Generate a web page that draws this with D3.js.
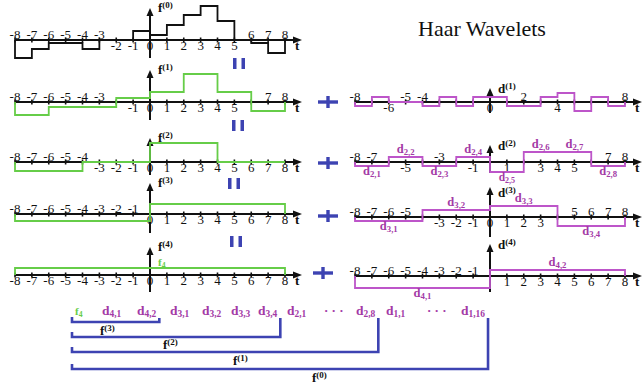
<!DOCTYPE html>
<html>
<head>
<meta charset="utf-8">
<script src="https://cdn.jsdelivr.net/npm/d3@7"></script>
<style>
  body { margin: 0; background: #fff; }
  svg { display: block; }
</style>
</head>
<body>
<svg id="chart" width="642" height="387"></svg>
<script>
// step heights, one value per interval on [-8, 8]
const f0 = [-18, -9, -3, -3, -9, 0, 0, 9, 5, 15, 25, 34, 19, 0, -3, -13];
const f1 = [-13, -5, -5, 4, 10, 28, 10, -9];
const f2 = [-9, 0, 19, 0];
const f3 = [-7, 10];
const f4 = [7];
const det1 = [-4, 5, 0, 0, -4, 5, -4, 5, 5, -4, -4, 5, 9, -9, 5, -4];
const det2 = [-4, 5, -4, 5, -10, 10, 10, -4];
const det3 = [-4, 7, 11, -9];
const det4 = [-12, 6];

// tick labels shown above / below each axis
const fTicksAbove = [
  [-8, -7, -6, -5, -4, -3, 6, 7, 8],
  [-8, -7, -6, -5, -4, -3, 7, 8],
  [-8, -7, -6, -5, -4],
  [-8, -7, -6, -5, -4, -3, -2, -1],
  []
];
const fTicksBelow = [
  [-2, -1, 0, 1, 2, 3, 4, 5],
  [-1, 0, 1, 2, 3, 4, 5],
  [-3, -2, -1, 0, 1, 2, 3, 4, 5, 6, 7, 8],
  [0, 1, 2, 3, 4, 5, 6, 7, 8],
  [-8, -7, -6, -5, -4, -3, -2, -1, 0, 1, 2, 3, 4, 5, 6, 7, 8]
];
const dTicksAbove = [
  [-8, -5, -4, 2, 8],
  [-8, -7, -3, 7, 8],
  [-8, -7, -6, -5, 5, 6, 7, 8],
  [-8, -7, -6, -5, -4, -3, -2, -1]
];
const dTicksBelow = [
  [-6, 0, 4],
  [-5, -1, 1, 3, 4, 5],
  [-3, -2, -1, 0, 1, 2, 3],
  [1, 2, 3, 4, 5, 6, 7, 8]
];

// coefficient names written on the detail plots
const d2Names = ["2,1", "2,2", "2,3", "2,4", "2,5", "2,6", "2,7", "2,8"];
const d3Names = ["3,1", "3,2", "3,3", "3,4"];
const d4Names = ["4,1", "4,2"];

// coefficient sequence at the bottom and the brackets under it
const seqLabels = ["f|4", "d|4,1", "d|4,2", "d|3,1", "d|3,2", "d|3,3", "d|3,4", "d|2,1", "· · ·", "d|2,8", "d|1,1", "· · ·", "d|1,16"];
const bracketLevels = ["3", "2", "1", "0"];
const bracketEnds = [2, 6, 9, 12];

const green = "#66cd48", purple = "#bd55c9", purpleText = "#a33aa6", blue = "#3d43b2";
const serif = '"Liberation Serif"';

const svg = d3.select("#chart");

const xLeft = d3.scaleLinear().domain([-8, 8]).range([15, 285]);
const xRight = d3.scaleLinear().domain([-8, 8]).range([355, 625]);

const leftAxisY = [40, 102, 162, 214, 275];
const leftTop = [32, 32, 24, 31, 28];
const leftBottom = [18, 18, 13, 19, 17];
const rightAxisY = [102, 162, 217, 276];
const rightTop = [14, 17, 30, 32];
const rightBottom = [11, 11, 20, 16];
const rightLabelDy = [5, 5, 10, 5];

function stepPoints(values) {
  const w = 16 / values.length;
  const pts = [[-8, 0]];
  values.forEach((v, i) => pts.push([-8 + i * w, v], [-8 + (i + 1) * w, v]));
  pts.push([8, 0]);
  return pts;
}

function txt(x, y) {
  return svg.append("text").attr("x", x).attr("y", y).style("font-family", serif);
}

function supLabel(x, y, base, sup, color) {
  const t = txt(x, y).attr("fill", color).attr("font-weight", "bold");
  t.append("tspan").attr("font-size", 13).text(base);
  t.append("tspan").attr("font-size", 9).attr("dy", -4).text("(" + sup + ")");
  return t;
}

function subLabel(x, y, base, sub, color, anchor, size) {
  const s = size || 13;
  const t = txt(x, y).attr("fill", color).attr("font-weight", "bold")
    .attr("text-anchor", anchor || "start");
  t.append("tspan").attr("font-size", s).text(base);
  t.append("tspan").attr("font-size", s * 0.7).attr("dy", 1.5).text(sub);
  return t;
}

function drawAxis(x, y0, top, bottom, above, below, name, sym, labelDy) {
  const g = svg.append("g");
  const x0 = x(-8), x1 = x(8) + 14, xc = x(0);
  g.append("line").attr("x1", x0).attr("x2", x1).attr("y1", y0).attr("y2", y0)
    .attr("stroke", "#111").attr("stroke-width", 2);
  g.append("path").attr("d", `M${x1 + 3},${y0} L${x1 - 6},${y0 - 3.5} L${x1 - 6},${y0 + 3.5} Z`).attr("fill", "#111");
  g.append("line").attr("x1", xc).attr("x2", xc).attr("y1", y0 - top + 6).attr("y2", y0 + bottom)
    .attr("stroke", "#111").attr("stroke-width", 2);
  g.append("path").attr("d", `M${xc},${y0 - top} L${xc - 3.5},${y0 - top + 8} L${xc + 3.5},${y0 - top + 8} Z`).attr("fill", "#111");
  g.selectAll(".tk").data(d3.range(-8, 9)).enter().append("line")
    .attr("x1", d => x(d)).attr("x2", d => x(d))
    .attr("y1", y0 - 2.5).attr("y2", y0 + 2.5)
    .attr("stroke", "#111").attr("stroke-width", 1.6);
  g.selectAll(".ta").data(above).enter().append("text")
    .attr("x", d => x(d)).attr("y", y0 - 1.5).style("font-family", serif)
    .attr("text-anchor", "middle").attr("font-size", 13).attr("fill", "#111")
    .text(d => d);
  g.selectAll(".tb").data(below).enter().append("text")
    .attr("x", d => x(d)).attr("y", y0 + 10).style("font-family", serif)
    .attr("text-anchor", "middle").attr("font-size", 13).attr("fill", "#111")
    .text(d => d);
  g.append("text").attr("x", x1 - 4).attr("y", y0 + 10).attr("font-size", 13).style("font-family", serif)
    .attr("font-weight", "bold").attr("fill", "#111").text("t");
  supLabel(xc + 8, y0 - top + (labelDy || 5), sym, name, "#111");
}

function drawStep(x, y0, values, color) {
  const y = d3.scaleLinear().domain([0, 1]).range([y0, y0 - 1]);
  const line = d3.line().x(d => x(d[0])).y(d => y(d[1]));
  svg.append("path").attr("d", line(stepPoints(values)))
    .attr("fill", "none").attr("stroke", color).attr("stroke-width", 1.8);
  return y;
}

// left column: approximations
const fSeries = [f0, f1, f2, f3, f4];
fSeries.forEach((vals, i) => {
  drawAxis(xLeft, leftAxisY[i], leftTop[i], leftBottom[i], fTicksAbove[i], fTicksBelow[i], String(i), "f", 4);
  drawStep(xLeft, leftAxisY[i], vals, i === 0 ? "#111" : green);
});
subLabel(xLeft(0) + 8, leftAxisY[4] - 9, "f", "4", green, "start", 11);

// right column: details
const dSeries = [det1, det2, det3, det4];
const dNames = [null, d2Names, d3Names, d4Names];
dSeries.forEach((vals, i) => {
  drawAxis(xRight, rightAxisY[i], rightTop[i], rightBottom[i], dTicksAbove[i], dTicksBelow[i], String(i + 1), "d", rightLabelDy[i]);
  const y = drawStep(xRight, rightAxisY[i], vals, purple);
  if (dNames[i]) {
    const w = 16 / vals.length;
    vals.forEach((v, k) => {
      const xm = xRight(-8 + (k + 0.5) * w);
      const yy = v > 0 ? y(v) - 4 : y(v) + 9;
      subLabel(xm, yy, "d", dNames[i][k], purpleText, "middle", v < -8 && i === 1 ? 11.5 : 12.5);
    });
  }
});

// "=" and "+" signs between the rows
const eqPos = [[239, 58], [238, 120], [234, 178], [236, 236]];
eqPos.forEach(p => {
  svg.append("rect").attr("x", p[0] - 6).attr("y", p[1]).attr("width", 3.5).attr("height", 11).attr("fill", blue);
  svg.append("rect").attr("x", p[0] + 2.5).attr("y", p[1]).attr("width", 3.5).attr("height", 11).attr("fill", blue);
});
const plusPos = [[328, 102], [328, 163], [328, 216], [323, 273]];
plusPos.forEach(p => {
  svg.append("rect").attr("x", p[0] - 10).attr("y", p[1] - 1.7).attr("width", 20).attr("height", 3.4).attr("fill", blue);
  svg.append("rect").attr("x", p[0] - 1.7).attr("y", p[1] - 6).attr("width", 3.4).attr("height", 12).attr("fill", blue);
});

// title
txt(418, 36).attr("font-size", 22).attr("fill", "#111").text("Haar Wavelets");

// coefficient sequence
const seqX = d3.scaleOrdinal().domain(d3.range(seqLabels.length))
  .range([75, 102, 137, 170, 202, 231, 258, 287, 324, 356, 386, 427, 461]);
const seqRight = [];
seqLabels.forEach((s, i) => {
  let t;
  if (s.indexOf("|") < 0) {
    t = txt(seqX(i), 315).attr("font-size", 13).attr("font-weight", "bold").attr("fill", purpleText).text(s);
  } else {
    const [b, sub] = s.split("|");
    t = subLabel(seqX(i), 315, b, sub, b === "f" ? green : purpleText, "start", b === "f" ? 11 : 13.5);
  }
  seqRight.push(seqX(i) + t.node().getComputedTextLength());
});

const bracketY = [322, 337, 352, 369];
const bracketLabel = [[100, 335], [163, 349], [233, 365], [312, 382]];
bracketLevels.forEach((lv, i) => {
  const xa = 72, xb = seqRight[bracketEnds[i]] + 3, yh = bracketY[i];
  svg.append("path").attr("d", `M${xa},${yh - 5} L${xa},${yh} L${xb},${yh} L${xb},${318}`)
    .attr("fill", "none").attr("stroke", blue).attr("stroke-width", 2.6);
  supLabel(bracketLabel[i][0], bracketLabel[i][1], "f", lv, "#111");
});
</script>
</body>
</html>
